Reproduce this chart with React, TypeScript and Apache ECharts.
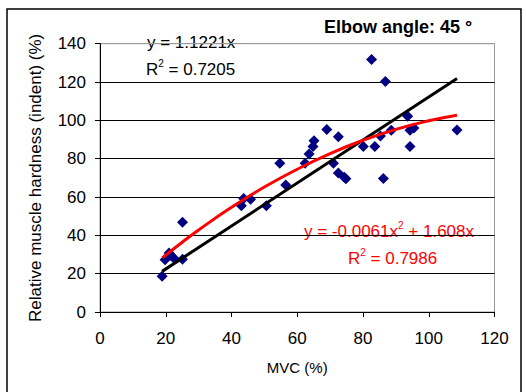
import React, { useEffect, useRef } from "react";
import * as echarts from "echarts";

const mvc = [18.9, 19.8, 21.0, 21.6, 22.5, 25.1, 25.1, 43.0, 43.7, 45.8, 50.6, 54.7, 56.5, 62.4, 63.6, 64.8, 65.1, 69.0, 71.0, 72.5, 72.5, 74.3, 74.8, 80.1, 82.6, 83.6, 85.3, 86.2, 86.8, 88.6, 93.6, 94.3, 94.3, 95.5, 108.6];
const hardness = [18.6, 27.3, 30.8, 29.5, 28.0, 46.8, 27.5, 55.5, 59.2, 58.8, 55.5, 77.6, 66.3, 77.6, 82.5, 86.3, 89.4, 95.2, 77.6, 91.5, 72.5, 70.3, 69.5, 86.3, 131.8, 86.3, 91.8, 69.7, 120.3, 94.8, 102.2, 94.8, 86.3, 96.0, 95.0];

const linTrendX = [18.9, 108.6];
const linTrendY = [21.2, 121.9];
const polyTrendX = [19, 25, 30, 40, 50, 60, 70, 80, 90, 100, 108.6];
const polyTrendY = [28.3, 36.4, 42.8, 54.6, 65.2, 74.5, 82.7, 89.6, 95.3, 99.8, 102.7];

const xTicks = [0, 20, 40, 60, 80, 100, 120];
const yTicks = [0, 20, 40, 60, 80, 100, 120, 140];

const FONT = "Liberation Sans, Arial, sans-serif";

export default function App() {
  const ref = useRef<HTMLDivElement>(null);
  useEffect(() => {
    if (!ref.current) return;
    const chart = echarts.init(ref.current, null, { renderer: "svg" });
    const splitColors = yTicks.map((t, i) => (i === yTicks.length - 1 ? "#999999" : "#000000"));
    chart.setOption({
      animation: false,
      backgroundColor: "#ffffff",
      textStyle: { fontFamily: FONT },
      grid: {
        left: 100,
        right: 31.5,
        top: 43.7,
        bottom: 80,
        show: true,
        borderColor: "#999999",
        borderWidth: 1,
      },
      xAxis: {
        type: "value",
        min: xTicks[0],
        max: xTicks[xTicks.length - 1],
        interval: 20,
        name: "MVC (%)",
        nameLocation: "middle",
        nameGap: 48,
        nameTextStyle: { fontSize: 15, color: "#000", fontFamily: FONT },
        axisLine: { show: true, lineStyle: { color: "#000", width: 1 } },
        axisTick: { show: true, inside: false, length: 5, lineStyle: { color: "#000" } },
        axisLabel: { fontSize: 17, color: "#000", margin: 18, fontFamily: FONT },
        splitLine: { show: false },
      },
      yAxis: {
        type: "value",
        min: yTicks[0],
        max: yTicks[yTicks.length - 1],
        interval: 20,
        name: "Relative muscle hardness (indent) (%)",
        nameLocation: "middle",
        nameGap: 56,
        nameTextStyle: { fontSize: 17, color: "#000", fontFamily: FONT },
        axisLine: { show: true, lineStyle: { color: "#000", width: 1 } },
        axisTick: { show: true, inside: false, length: 5, lineStyle: { color: "#000" } },
        axisLabel: { fontSize: 17, color: "#000", margin: 14, fontFamily: FONT },
        splitLine: { show: true, lineStyle: { color: splitColors, width: 1 } },
      },
      series: [
        {
          type: "line",
          data: linTrendX.map((x, i) => [x, linTrendY[i]]),
          showSymbol: false,
          symbol: "none",
          lineStyle: { color: "#000000", width: 3 },
          z: 3,
        },
        {
          type: "line",
          data: polyTrendX.map((x, i) => [x, polyTrendY[i]]),
          showSymbol: false,
          symbol: "none",
          smooth: true,
          lineStyle: { color: "#ff0000", width: 3 },
          z: 4,
        },
        {
          type: "scatter",
          data: mvc.map((x, i) => [x, hardness[i]]),
          symbol: "diamond",
          symbolSize: 11,
          itemStyle: { color: "#000080", opacity: 1 },
          z: 2,
        },
      ],
      graphic: [
        {
          type: "rect",
          shape: { x: 7, y: 9, width: 514, height: 400 },
          style: { fill: "none", stroke: "#000", lineWidth: 1.5 },
          silent: true,
        },
        {
          type: "text",
          x: 324,
          y: 27,
          style: {
            text: "Elbow angle: 45 °",
            font: `bold 18px ${FONT}`,
            fill: "#000",
            verticalAlign: "middle",
          },
        },
        {
          type: "text",
          x: 147,
          y: 42,
          style: { text: "y = 1.1221x", font: `17px ${FONT}`, fill: "#000", verticalAlign: "middle" },
        },
        {
          type: "text",
          x: 146,
          y: 68,
          style: {
            text: "{a|R}{s|2}{a| = 0.7205}",
            verticalAlign: "middle",
            rich: {
              a: { fontSize: 17, fontFamily: FONT, fill: "#000", color: "#000", lineHeight: 20, verticalAlign: "bottom" },
              s: { fontSize: 10, fontFamily: FONT, fill: "#000", color: "#000", verticalAlign: "top" },
            },
          },
        },
        {
          type: "text",
          x: 304,
          y: 230,
          style: {
            text: "{a|y = -0.0061x}{s|2}{a| + 1.608x}",
            verticalAlign: "middle",
            rich: {
              a: { fontSize: 17, fontFamily: FONT, fill: "#ff0000", color: "#ff0000", lineHeight: 20, verticalAlign: "bottom" },
              s: { fontSize: 10, fontFamily: FONT, fill: "#ff0000", color: "#ff0000", verticalAlign: "top" },
            },
          },
        },
        {
          type: "text",
          x: 348,
          y: 257,
          style: {
            text: "{a|R}{s|2}{a| = 0.7986}",
            verticalAlign: "middle",
            rich: {
              a: { fontSize: 17, fontFamily: FONT, fill: "#ff0000", color: "#ff0000", lineHeight: 20, verticalAlign: "bottom" },
              s: { fontSize: 10, fontFamily: FONT, fill: "#ff0000", color: "#ff0000", verticalAlign: "top" },
            },
          },
        },
      ],
    });
    return () => chart.dispose();
  }, []);
  return (
    <div
      ref={ref}
      style={{ position: "absolute", left: 0, top: 0, width: 526, height: 392 }}
    />
  );
}
